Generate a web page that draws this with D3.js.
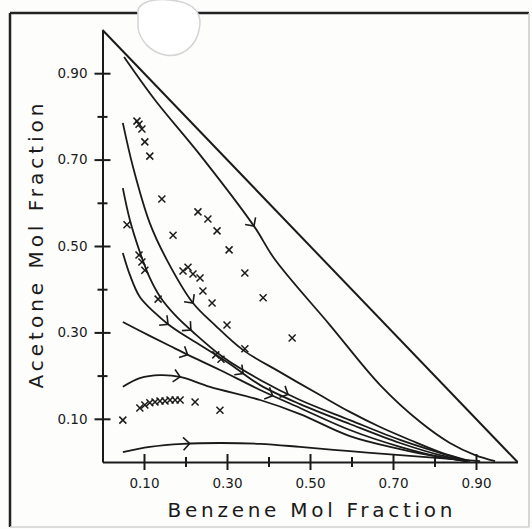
<!DOCTYPE html>
<html>
<head>
<meta charset="utf-8">
<script src="https://cdn.jsdelivr.net/npm/d3@7"></script>
<style>
body { margin: 0; background: #fff; }
svg text { font-family: "DejaVu Sans", sans-serif; fill: #1a1a1a; }
</style>
</head>
<body>
<div id="chart"></div>
<script>
var w = 532;
var h = 529;

// tick values and labels
var majorTicks = [0.1, 0.3, 0.5, 0.7, 0.9];
var minorTicks = [0.2, 0.4, 0.6, 0.8];
var tickLabels = ["0.10", "0.30", "0.50", "0.70", "0.90"];
var xTitle = "Benzene Mol Fraction";
var yTitle = "Acetone Mol Fraction";

// triangle edge (benzene + acetone = 1)
var hypotenuse = [[0, 1], [1, 0]];

// residue curves [benzene, acetone]
var curveA = [[0.052, 0.9375], [0.1265, 0.838], [0.235, 0.711], [0.365, 0.546], [0.416, 0.468],
    [0.548, 0.317], [0.669, 0.178], [0.765, 0.093], [0.837, 0.044], [0.898, 0.016], [0.946, 0.002]];
var curveB = [[0.049, 0.785], [0.0735, 0.683], [0.114, 0.553], [0.155, 0.468], [0.218, 0.368],
    [0.271, 0.317], [0.339, 0.259], [0.428, 0.208], [0.524, 0.155], [0.596, 0.116], [0.669, 0.081],
    [0.741, 0.051], [0.813, 0.023], [0.886, 0.002]];
var curveC = [[0.049, 0.634], [0.066, 0.560], [0.090, 0.486], [0.114, 0.426], [0.139, 0.382],
    [0.175, 0.340], [0.218, 0.301], [0.290, 0.243], [0.380, 0.190], [0.476, 0.1435], [0.596, 0.097],
    [0.717, 0.051], [0.813, 0.021], [0.880, 0.002]];
var curveD = [[0.049, 0.484], [0.066, 0.433], [0.090, 0.382], [0.1265, 0.345], [0.158, 0.319],
    [0.199, 0.292], [0.235, 0.271], [0.307, 0.227], [0.380, 0.178], [0.476, 0.134], [0.596, 0.088],
    [0.717, 0.044], [0.813, 0.016], [0.881, 0.002]];
var curveE = [[0.049, 0.324], [0.114, 0.292], [0.163, 0.2685], [0.206, 0.248], [0.283, 0.213],
    [0.380, 0.1667], [0.476, 0.125], [0.596, 0.074], [0.717, 0.035], [0.813, 0.0116], [0.876, 0.002]];
var curveF = [[0.049, 0.174], [0.090, 0.194], [0.1385, 0.201], [0.187, 0.197], [0.259, 0.174],
    [0.380, 0.1435], [0.476, 0.111], [0.596, 0.060], [0.717, 0.030], [0.813, 0.0116], [0.876, 0.002]];
var curveG = [[0.049, 0.023], [0.114, 0.035], [0.194, 0.042], [0.283, 0.044], [0.380, 0.042],
    [0.476, 0.035], [0.596, 0.025], [0.717, 0.016], [0.813, 0.009], [0.910, 0.002]];

var curves = [curveA, curveB, curveC, curveD, curveE, curveF, curveG];

// arrow heads: [curve index, benzene value where the head sits]
var arrows = [[0, 0.365], [1, 0.218], [2, 0.213], [2, 0.447], [3, 0.158], [3, 0.339],
    [4, 0.205], [4, 0.41], [5, 0.187], [6, 0.21]];

// measured points (x marks)
var measured = [[0.083, 0.789], [0.088, 0.782], [0.095, 0.771], [0.102, 0.741], [0.114, 0.708],
    [0.143, 0.609], [0.059, 0.549], [0.170, 0.525], [0.230, 0.579], [0.254, 0.5625], [0.276, 0.535],
    [0.305, 0.491], [0.343, 0.4375], [0.387, 0.380], [0.457, 0.287], [0.088, 0.479], [0.095, 0.463],
    [0.102, 0.444], [0.194, 0.442], [0.206, 0.451], [0.218, 0.435], [0.235, 0.426], [0.134, 0.377],
    [0.242, 0.396], [0.264, 0.368], [0.300, 0.317], [0.343, 0.262], [0.273, 0.248], [0.2855, 0.238],
    [0.049, 0.097], [0.090, 0.125], [0.102, 0.132], [0.114, 0.137], [0.1265, 0.139], [0.1385, 0.141],
    [0.1506, 0.141], [0.1627, 0.1435], [0.175, 0.1435], [0.187, 0.1435], [0.223, 0.139], [0.283, 0.120]];

var svg = d3.select("#chart")
    .append("svg")
    .attr("width", w)
    .attr("height", h);

svg.append("rect").attr("width", w).attr("height", h).attr("fill", "#fdfdfc");

// outer frame of the scanned page
svg.append("line").attr("x1", 10).attr("y1", 13).attr("x2", 10).attr("y2", 527)
    .attr("stroke", "#222").attr("stroke-width", 2.5);
svg.append("line").attr("x1", 10).attr("y1", 13).attr("x2", 529).attr("y2", 13)
    .attr("stroke", "#222").attr("stroke-width", 2.5);
svg.append("line").attr("x1", 529).attr("y1", 13).attr("x2", 529).attr("y2", 527)
    .attr("stroke", "#c8c8c8").attr("stroke-width", 1.5);
svg.append("line").attr("x1", 10).attr("y1", 527).attr("x2", 529).attr("y2", 527)
    .attr("stroke", "#d0d0d0").attr("stroke-width", 1.5);

// paper blemish over the top edge
svg.append("path")
    .attr("d", "M138,14 C136,4 150,-2 170,0 C195,2 203,14 199,30 C196,46 182,58 165,55 C150,52 140,40 138,28 Z")
    .attr("fill", "#fff").attr("stroke", "#d4d4d4").attr("stroke-width", 1.5);

var xScale = d3.scaleLinear().domain([0, 1]).range([102.5, 517.5]);
var yScale = d3.scaleLinear().domain([0, 1]).range([462, 30]);

// Y axis
var yAxis = d3.axisLeft(yScale)
    .tickValues(majorTicks)
    .tickFormat(function (d, i) { return tickLabels[i]; })
    .tickSize(8)
    .tickSizeOuter(0)
    .tickPadding(7);
var gy = svg.append("g")
    .attr("transform", "translate(" + xScale(0) + ",0)")
    .call(yAxis);
gy.selectAll(".tick line").attr("x1", 8).attr("x2", -8);

var yMinor = d3.axisLeft(yScale).tickValues(minorTicks).tickFormat("").tickSize(5).tickSizeOuter(0);
var gym = svg.append("g")
    .attr("transform", "translate(" + xScale(0) + ",0)")
    .call(yMinor);
gym.select(".domain").remove();
gym.selectAll(".tick line").attr("x1", 5).attr("x2", -5);

// X axis
var xAxis = d3.axisBottom(xScale)
    .tickValues(majorTicks)
    .tickFormat(function (d, i) { return tickLabels[i]; })
    .tickSize(8)
    .tickSizeOuter(0)
    .tickPadding(8);
var gx = svg.append("g")
    .attr("transform", "translate(0," + yScale(0) + ")")
    .call(xAxis);
gx.selectAll(".tick line").attr("y1", -8).attr("y2", 8);

var xMinor = d3.axisBottom(xScale).tickValues(minorTicks).tickFormat("").tickSize(5).tickSizeOuter(0);
var gxm = svg.append("g")
    .attr("transform", "translate(0," + yScale(0) + ")")
    .call(xMinor);
gxm.select(".domain").remove();
gxm.selectAll(".tick line").attr("y1", -5).attr("y2", 5);

svg.selectAll(".domain, .tick line").attr("stroke", "#1a1a1a").attr("stroke-width", 2);
svg.selectAll(".tick text")
    .style("font-family", "'DejaVu Sans', sans-serif")
    .style("font-size", "13.5px")
    .attr("fill", "#1a1a1a");

// axis titles
svg.append("text")
    .attr("x", 310)
    .attr("y", 517)
    .attr("text-anchor", "middle")
    .attr("textLength", 285)
    .attr("lengthAdjust", "spacing")
    .style("font-size", "20px")
    .text(xTitle);

svg.append("text")
    .attr("transform", "translate(43,246) rotate(-90)")
    .attr("text-anchor", "middle")
    .attr("textLength", 285)
    .attr("lengthAdjust", "spacing")
    .style("font-size", "20px")
    .text(yTitle);

var line = d3.line()
    .x(function (d) { return xScale(d[0]); })
    .y(function (d) { return yScale(d[1]); });

var smooth = d3.line()
    .x(function (d) { return xScale(d[0]); })
    .y(function (d) { return yScale(d[1]); })
    .curve(d3.curveCatmullRom.alpha(0.5));

svg.append("path")
    .attr("d", line(hypotenuse))
    .attr("fill", "none")
    .attr("stroke", "#1a1a1a")
    .attr("stroke-width", 2);

var paths = svg.selectAll(".curve")
    .data(curves)
    .enter()
    .append("path")
    .attr("class", "curve")
    .attr("d", smooth)
    .attr("fill", "none")
    .attr("stroke", "#1a1a1a")
    .attr("stroke-width", 1.8);

// arrow heads placed on the drawn curves
function arrowPath(node, xv) {
    var L = node.getTotalLength(), lo = 0, hi = L, px = xScale(xv);
    for (var k = 0; k < 30; k++) {
        var m = (lo + hi) / 2;
        if (node.getPointAtLength(m).x < px) lo = m; else hi = m;
    }
    var p = node.getPointAtLength(lo);
    var q = node.getPointAtLength(Math.max(0, lo - 3));
    var back = Math.atan2(q.y - p.y, q.x - p.x);
    var len = 9;
    var a1 = back + Math.PI / 4, a2 = back - Math.PI / 4;
    return "M" + (p.x + len * Math.cos(a1)) + "," + (p.y + len * Math.sin(a1)) +
        "L" + p.x + "," + p.y +
        "L" + (p.x + len * Math.cos(a2)) + "," + (p.y + len * Math.sin(a2));
}

var pathNodes = paths.nodes();
svg.selectAll(".arrow")
    .data(arrows)
    .enter()
    .append("path")
    .attr("class", "arrow")
    .attr("d", function (d) { return arrowPath(pathNodes[d[0]], d[1]); })
    .attr("fill", "none")
    .attr("stroke", "#1a1a1a")
    .attr("stroke-width", 1.6);

// x marks
svg.selectAll(".pt")
    .data(measured)
    .enter()
    .append("path")
    .attr("class", "pt")
    .attr("transform", function (d) { return "translate(" + xScale(d[0]) + "," + yScale(d[1]) + ")"; })
    .attr("d", "M-3.5,-3.5L3.5,3.5M-3.5,3.5L3.5,-3.5")
    .attr("stroke", "#1a1a1a")
    .attr("stroke-width", 1.5);
</script>
</body>
</html>
